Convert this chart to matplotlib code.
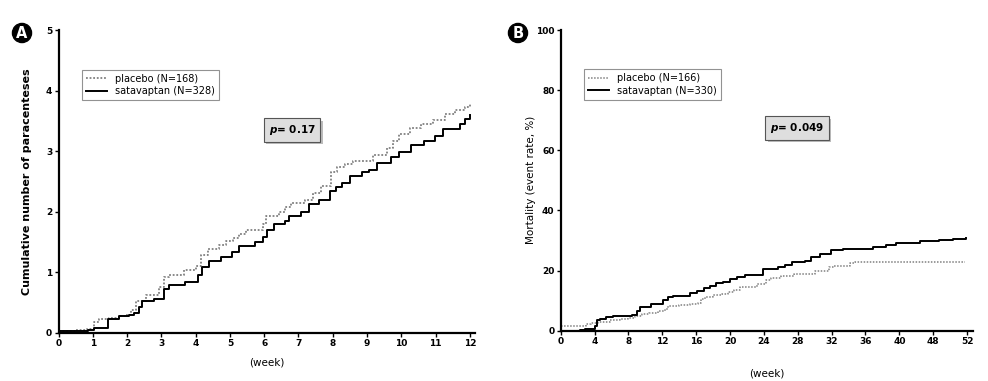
import matplotlib
matplotlib.use("Agg")
import matplotlib.pyplot as plt
from matplotlib.patches import Rectangle

plt.rcParams['font.family'] = ['DejaVu Sans']
plt.rcParams['mathtext.fontset'] = 'custom'
plt.rcParams['mathtext.it'] = 'DejaVu Sans:italic:bold'

# Panel A: cumulative number of paracenteses (weeks 0-12)
a_sat_week = [0, 0.85, 1.05, 1.43, 1.77, 2.06, 2.2, 2.34, 2.43, 2.79, 3.07, 3.21, 3.68, 4.06, 4.18,
              4.38, 4.74, 5.05, 5.27, 5.74, 5.96, 6.08, 6.3, 6.62, 6.73, 7.07, 7.32, 7.6, 7.92, 8.1,
              8.28, 8.5, 8.86, 9.06, 9.29, 9.7, 9.93, 10.27, 10.65, 10.97, 11.23, 11.7, 11.87, 12.0]
a_sat_val = [0.02, 0.05, 0.08, 0.22, 0.27, 0.30, 0.33, 0.42, 0.53, 0.56, 0.72, 0.78, 0.83, 0.95, 1.08,
             1.18, 1.25, 1.33, 1.43, 1.50, 1.58, 1.70, 1.80, 1.85, 1.93, 2.00, 2.12, 2.20, 2.34, 2.40,
             2.47, 2.59, 2.66, 2.69, 2.81, 2.91, 2.99, 3.10, 3.17, 3.25, 3.37, 3.44, 3.53, 3.60]
a_pla_week = [0, 0.5, 0.82, 1.04, 1.19, 1.48, 1.77, 1.97, 2.11, 2.26, 2.55, 2.94, 3.09, 3.23, 3.67,
              4.01, 4.16, 4.35, 4.69, 4.89, 5.08, 5.26, 5.47, 5.96, 6.05, 6.42, 6.62, 6.78, 7.2, 7.43,
              7.67, 7.96, 8.13, 8.35, 8.6, 9.16, 9.58, 9.75, 9.93, 10.24, 10.58, 10.93, 11.27, 11.56,
              11.85, 12.0]
a_pla_val = [0.03, 0.04, 0.06, 0.18, 0.22, 0.25, 0.28, 0.30, 0.37, 0.52, 0.62, 0.75, 0.92, 0.96, 1.03,
             1.10, 1.28, 1.38, 1.45, 1.52, 1.57, 1.63, 1.70, 1.80, 1.92, 2.00, 2.07, 2.14, 2.20, 2.30,
             2.43, 2.66, 2.74, 2.78, 2.84, 2.94, 3.05, 3.16, 3.28, 3.38, 3.45, 3.52, 3.61, 3.68,
             3.73, 3.80]

# Panel B: mortality (%), x in evenly spaced axis units
b_sat_week = [0, 2.3, 2.9, 3.5, 4.05, 4.3, 4.6, 5.4, 6.2, 7.2, 8.4, 9.0, 9.4, 10.7, 12.1, 12.7, 13.3,
              15.3, 16.1, 16.9, 17.6, 18.4, 19.2, 20.0, 20.8, 21.8, 23.9, 25.7, 26.5, 27.3, 28.8, 29.6,
              30.6, 31.9, 33.4, 36.9, 38.4, 39.6, 42.4, 44.7, 46.3, 47.9]
b_sat_val = [0, 0.2, 0.4, 0.6, 1.5, 3.5, 4.0, 4.4, 4.8, 5.0, 5.3, 6.5, 8.0, 9.0, 10.2, 11.2, 11.7,
             12.6, 13.3, 14.3, 14.8, 15.7, 16.3, 17.2, 17.8, 18.4, 20.5, 21.2, 21.7, 22.7, 23.3, 24.6,
             25.5, 26.8, 27.3, 27.9, 28.4, 29.3, 29.8, 30.1, 30.4, 30.9]
b_pla_week = [0, 3.0, 3.6, 4.4, 5.8, 7.0, 8.0, 8.8, 9.6, 10.4, 11.5, 12.3, 12.7, 14.0, 15.3, 16.2,
              16.6, 17.0, 18.0, 19.0, 19.8, 20.5, 21.2, 23.2, 24.2, 24.8, 26.0, 27.6, 28.8, 30.0, 31.7,
              32.3, 34.2, 34.8, 47.7]
b_pla_val = [1.5, 2.2, 2.6, 3.0, 3.5, 3.9, 4.3, 5.0, 5.6, 6.0, 6.5, 7.2, 8.2, 8.5, 8.8, 9.3,
             10.5, 11.2, 11.8, 12.3, 12.8, 13.5, 14.6, 15.4, 16.9, 17.6, 18.2, 18.7, 19.0, 19.9, 21.1,
             21.5, 22.4, 23.0, 23.0]

a_xticks = list(range(0, 13))
b_xticks = list(range(0, 49, 4))
b_xticklabels = ['0', '4', '8', '12', '16', '20', '24', '28', '32', '36', '40', '48', '52']

W, H = 988, 381
fig = plt.figure(figsize=(W / 100, H / 100), dpi=100)


def px_axes(x0, x1, y_top, y_bot):
    return fig.add_axes([x0 / W, 1 - y_bot / H, (x1 - x0) / W, (y_bot - y_top) / H])


def style(ax):
    for s in ['top', 'right']:
        ax.spines[s].set_visible(False)
    for s in ['left', 'bottom']:
        ax.spines[s].set_linewidth(1.6)
    ax.tick_params(direction='out', length=3, width=1, labelsize=6.5, pad=1.5)
    for lab in ax.get_xticklabels() + ax.get_yticklabels():
        lab.set_fontweight('bold')


p_texts = []


def p_box(x, y, txt):
    t = fig.text(x, y, txt, fontsize=7.5, fontweight='bold', ha='center', va='center', zorder=5,
                 bbox=dict(boxstyle='square,pad=0.45', fc='#dedede', ec='#555555', lw=0.8))
    p_texts.append(t)


def panel_letter(x, y, letter):
    fig.text(x / W, 1 - y / H, letter, color='white', fontsize=10.5, fontweight='bold',
             ha='center', va='center',
             bbox=dict(boxstyle='circle,pad=0.14', fc='black', ec='black'))


# ---- Panel A
axA = px_axes(58.5, 475, 30, 332.7)
axA.step(a_pla_week, a_pla_val, where='post', color='#808080', lw=1.3, ls=(0, (1, 1)),
         label='placebo (N=168)')
axA.step(a_sat_week, a_sat_val, where='post', color='black', lw=1.4, label='satavaptan (N=328)')
axA.set_xlim(0, 12.15)
axA.set_ylim(0, 5)
axA.set_xticks(a_xticks)
axA.set_yticks([0, 1, 2, 3, 4, 5])
style(axA)
axA.set_xlabel('(week)', fontsize=7.5, labelpad=7)
axA.set_ylabel('Cumulative number of paracenteses', fontsize=8, fontweight='bold', labelpad=10)
axA.legend(loc='upper left', bbox_to_anchor=(0.045, 0.885), fontsize=7, frameon=True, fancybox=False,
           edgecolor='#777777', handlelength=2.2, borderpad=0.4, labelspacing=0.25)
axA.get_legend().get_frame().set_linewidth(0.8)

# ---- Panel B
axB = px_axes(560.7, 973, 30, 330.7)
axB.step(b_pla_week, b_pla_val, where='post', color='#808080', lw=1.1, ls=(0, (1, 1)),
         label='placebo (N=166)')
axB.step(b_sat_week, b_sat_val, where='post', color='black', lw=1.4, label='satavaptan (N=330)')
axB.set_xlim(0, 48.7)
axB.set_ylim(0, 100)
axB.set_xticks(b_xticks)
axB.set_xticklabels(b_xticklabels)
axB.set_yticks([0, 20, 40, 60, 80, 100])
style(axB)
axB.set_xlabel('(week)', fontsize=7.5, labelpad=16)
axB.set_ylabel('Mortality (event rate, %)', fontsize=7.5, labelpad=0)
axB.legend(loc='upper left', bbox_to_anchor=(0.045, 0.885), fontsize=7, frameon=True, fancybox=False,
           edgecolor='#777777', handlelength=2.2, borderpad=0.4, labelspacing=0.25)
axB.get_legend().get_frame().set_linewidth(0.8)

p_box(292 / W, 1 - 130 / H, '$p$= 0.17')
p_box(797 / W, 1 - 128 / H, '$p$= 0.049')

panel_letter(22, 33, 'A')
panel_letter(518, 33, 'B')

# drop shadows behind the p-value boxes
fig.canvas.draw()
for t in p_texts:
    ext = t.get_bbox_patch().get_window_extent()
    fig.patches.append(Rectangle((ext.x0 + 2.5, ext.y0 - 2.5), ext.width, ext.height,
                                 transform=None, fc='#a0a0a0', ec='none', alpha=0.7, zorder=1))

fig.savefig('out.png', dpi=100)
